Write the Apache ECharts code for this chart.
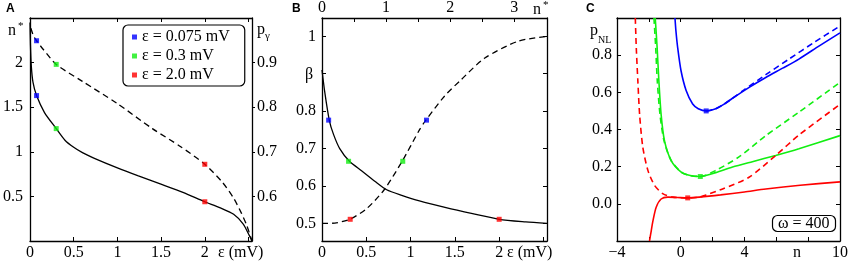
<!DOCTYPE html>
<html>
<head>
<meta charset="utf-8">
<script src="https://cdn.jsdelivr.net/npm/echarts@6/dist/echarts.min.js"></script>
<style>
  html, body { margin: 0; padding: 0; background: #fff; }
  #main { width: 851px; height: 263px; }
</style>
</head>
<body>
<div id="main"></div>
<script>
// ---- panel A : n* (solid, left axis) and p_gamma (dashed, right axis) vs epsilon
const epsA = [0.0, 0.005, 0.015, 0.034, 0.075, 0.166, 0.3, 0.4, 0.5, 0.6, 0.73, 1.0, 1.24, 1.49, 1.75, 2.0, 2.17, 2.33, 2.44, 2.51, 2.54];
const nStarA = [2.45, 2.2, 1.96, 1.78, 1.63, 1.44, 1.26, 1.13, 1.05, 0.99, 0.93, 0.82, 0.73, 0.64, 0.545, 0.44, 0.375, 0.30, 0.19, 0.06, 0.0];
const epsPg = [0.01, 0.04, 0.075, 0.15, 0.3, 0.6, 1.0, 1.4, 1.72, 2.0, 2.2, 2.33, 2.42, 2.48, 2.54];
const pGammaA = [0.977, 0.96, 0.949, 0.93, 0.896, 0.858, 0.808, 0.752, 0.712, 0.672, 0.632, 0.596, 0.562, 0.535, 0.5];

// the three marked cases
const caseNames = ['ε = 0.075 mV', 'ε = 0.3 mV', 'ε = 2.0 mV'];
const caseColors = ['#0000ff', '#11ee11', '#ff0000'];
const caseEps = [0.075, 0.3, 2.0];
const caseNStar = [1.63, 1.26, 0.44];
const casePGamma = [0.949, 0.896, 0.672];
const caseBeta = [0.776, 0.666, 0.511];

// ---- panel B : beta vs epsilon (solid, bottom axis) and vs n* (dashed, top axis)
const epsB = [0, 0.03, 0.083, 0.13, 0.2, 0.31, 0.45, 0.6, 0.73, 0.9, 1.1, 1.4, 1.7, 2.0, 2.3, 2.54];
const betaB = [0.91, 0.853, 0.775, 0.738, 0.7, 0.666, 0.64, 0.612, 0.59, 0.575, 0.56, 0.542, 0.526, 0.511, 0.504, 0.5];
const nStarB = [0, 0.2, 0.435, 0.7, 0.97, 1.25, 1.52, 1.62, 1.91, 2.17, 2.54, 3.06, 3.51];
const betaDashB = [0.5, 0.501, 0.511, 0.54, 0.59, 0.666, 0.75, 0.776, 0.84, 0.884, 0.942, 0.987, 1.0];

// ---- panel C : p_NL vs n
const nBlueS = [-0.36, -0.3, -0.19, 0.02, 0.34, 0.75, 1.1, 1.6, 2.2, 2.7, 3.25, 4.3, 5.34, 6.4, 7.42, 8.7, 10];
const pBlueS = [1.0, 0.93, 0.84, 0.716, 0.61, 0.537, 0.512, 0.5, 0.512, 0.535, 0.568, 0.627, 0.68, 0.73, 0.779, 0.85, 0.92];
const nBlueD = [1.6, 2.2, 2.7, 3.25, 4.0, 5.34, 6.8, 8.4, 10];
const pBlueD = [0.5, 0.512, 0.535, 0.568, 0.615, 0.695, 0.779, 0.87, 0.957];
const nGreenS = [-1.6, -1.48, -1.37, -1.23, -1.02, -0.6, 0.03, 0.6, 1.23, 2.2, 3.25, 4.5, 5.96, 7.42, 10];
const pGreenS = [1.0, 0.84, 0.66, 0.48, 0.34, 0.233, 0.171, 0.152, 0.147, 0.168, 0.198, 0.227, 0.26, 0.296, 0.367];
const nGreenD = [-1.68, -1.57, -1.47, -1.3, -1.05, -0.6, 0.03, 0.6, 1.23, 2.21, 3.7, 5.34, 7.42, 10];
const pGreenD = [1.0, 0.84, 0.66, 0.48, 0.34, 0.233, 0.171, 0.152, 0.147, 0.18, 0.255, 0.367, 0.493, 0.654];
const nRedS = [-1.96, -1.85, -1.75, -1.54, -1.23, -0.81, -0.2, 0.44, 1.17, 2.5, 4.0, 5.34, 7.5, 10];
const pRedS = [-0.2, -0.145, -0.094, -0.018, 0.026, 0.036, 0.034, 0.032, 0.036, 0.048, 0.064, 0.08, 0.1, 0.118];
const nRedD = [-2.85, -2.79, -2.69, -2.58, -2.38, -2.06, -1.64, -1.13, -0.5, 0.44, 1.17, 1.59, 2.63, 4.29, 5.96, 7.42, 10];
const pRedD = [1.0, 0.84, 0.66, 0.48, 0.305, 0.18, 0.099, 0.055, 0.036, 0.032, 0.036, 0.048, 0.08, 0.143, 0.26, 0.37, 0.535];
const minN = [1.6, 1.23, 0.44];
const minP = [0.5, 0.147, 0.032];

// ---- ticks and labels
const aXTicks = [0.5, 1, 1.5, 2, 2.5];
const aXLabels = [0, 0.5, 1, 1.5, 2];
const aYTicks = [0.5, 1, 1.5, 2];
const aYLabels = [0.5, 1, 1.5, 2];
const pgTicks = [0.6, 0.7, 0.8, 0.9];
const bXTicks = [0.5, 1, 1.5, 2, 2.5];
const bXLabels = [0, 0.5, 1, 1.5, 2];
const bTopTicks = [0.5, 1, 1.5, 2, 2.5, 3];
const bTopLabels = [0, 1, 2, 3];
const bYTicks = [0.5, 0.6, 0.7, 0.8, 0.9, 1];
const bYLabels = [0.5, 0.6, 0.7, 0.8, 1];
const cXTicks = [-2, 0, 2, 4, 6, 8];
const cXLabels = [-4, 0, 4, 10];
const cYTicks = [0, 0.2, 0.4, 0.6, 0.8];
const cYLabels = [0, 0.2, 0.4, 0.6, 0.8];

const SERIF = 'Liberation Serif';
const zip = (xs, ys) => xs.map((x, i) => [x, ys[i]]);

function axis(grid, pos, min, max, ticks, labels, fmt, opts) {
    opts = opts || {};
    return {
        type: 'value', gridIndex: grid, position: pos, min: min, max: max,
        splitLine: { show: false },
        axisLine: { show: true, onZero: false, lineStyle: { color: '#000', width: 1.3 } },
        axisTick: { show: true, inside: opts.outside ? false : true, length: opts.outside ? 3 : 4,
            customValues: ticks, lineStyle: { color: '#000', width: 1 } },
        axisLabel: labels ? { show: true, customValues: labels, formatter: fmt || (v => String(v)),
            margin: opts.margin != null ? opts.margin : 5, fontFamily: SERIF, fontSize: 16, color: '#000' }
            : { show: false }
    };
}

const xAxis = [
    axis(0, 'bottom', 0, 2.54, aXTicks, aXLabels, null, { margin: 4 }),
    axis(0, 'top', 0, 2.54, aXTicks, null),
    axis(1, 'bottom', 0, 2.54, bXTicks, bXLabels, null, { margin: 4 }),
    axis(1, 'top', 0, 3.51, bTopTicks, bTopLabels, null, { margin: 2 }),
    axis(2, 'bottom', -4, 10, cXTicks, cXLabels, v => v < 0 ? '\u2212' + Math.abs(v) : String(v), { margin: 4 }),
    axis(2, 'top', -4, 10, cXTicks, null)
];
const yAxis = [
    axis(0, 'left', 0, 2.5, aYTicks, aYLabels, null, { margin: 7 }),
    axis(0, 'right', 0.5, 1.0, pgTicks, pgTicks, null, { outside: true, margin: 5 }),
    axis(1, 'left', 0.453, 1.049, bYTicks, bYLabels, null, { margin: 6 }),
    axis(1, 'right', 0.453, 1.049, bYTicks, null),
    axis(2, 'left', -0.2, 1.0, cYTicks, cYLabels, v => v.toFixed(1), { margin: 5 }),
    axis(2, 'right', -0.2, 1.0, cYTicks, null)
];

function line(xi, yi, data, color, dashed, width) {
    return {
        type: 'line', xAxisIndex: xi, yAxisIndex: yi, data: data,
        showSymbol: false, smooth: 0.25, silent: true,
        lineStyle: { color: color, width: width || 1.3, type: dashed ? [6, 4] : 'solid' },
        z: 2
    };
}
function marks(xi, yi, name, pts, color) {
    return {
        type: 'scatter', name: name, xAxisIndex: xi, yAxisIndex: yi, data: pts,
        symbol: 'rect', symbolSize: 5, itemStyle: { color: color }, silent: true, z: 5
    };
}

const series = [
    line(0, 0, zip(epsA, nStarA), '#000', false),
    line(0, 1, zip(epsPg, pGammaA), '#000', true),
    line(2, 2, zip(epsB, betaB), '#000', false),
    line(3, 2, zip(nStarB, betaDashB), '#000', true),
    line(4, 4, zip(nBlueS, pBlueS), caseColors[0], false, 1.6),
    line(4, 4, zip(nBlueD, pBlueD), caseColors[0], true, 1.6),
    line(4, 4, zip(nGreenS, pGreenS), caseColors[1], false, 1.6),
    line(4, 4, zip(nGreenD, pGreenD), caseColors[1], true, 1.6),
    line(4, 4, zip(nRedS, pRedS), caseColors[2], false, 1.6),
    line(4, 4, zip(nRedD, pRedD), caseColors[2], true, 1.6)
];
caseNames.forEach((name, i) => {
    series.push(marks(0, 0, name, [[caseEps[i], caseNStar[i]]], caseColors[i]));
    series.push(marks(0, 1, name, [[caseEps[i], casePGamma[i]]], caseColors[i]));
    series.push(marks(2, 2, name, [[caseEps[i], caseBeta[i]]], caseColors[i]));
    series.push(marks(3, 2, name, [[caseNStar[i], caseBeta[i]]], caseColors[i]));
    series.push(marks(4, 4, name, [[minN[i], minP[i]]], caseColors[i]));
});

function txt(x, y, text, size) {
    return {
        type: 'text', x: x, y: y, silent: true,
        style: { text: text, font: size + 'px "' + SERIF + '"', fill: '#000', align: 'left', verticalAlign: 'middle' }
    };
}
const letterFont = { fontFamily: 'Liberation Sans', fontSize: 12, fontWeight: 'bold', color: '#000' };

var myChart = echarts.init(document.getElementById('main'), null, { renderer: 'canvas' });
var option = {
    animation: false,
    backgroundColor: '#fff',
    grid: [
        { left: 28, top: 18, width: 224, height: 223 },
        { left: 322, top: 18, width: 225, height: 223 },
        { left: 617, top: 18, width: 224, height: 223 }
    ],
    xAxis: xAxis,
    yAxis: yAxis,
    title: [
        { text: 'A', left: 6, top: 3, padding: 0, textStyle: letterFont },
        { text: 'B', left: 292, top: 3, padding: 0, textStyle: letterFont },
        { text: 'C', left: 586, top: 3, padding: 0, textStyle: letterFont },
        { text: 'ω = 400', left: 772, top: 215, padding: [1, 6, 0, 6],
          borderColor: '#000', borderWidth: 1.2, borderRadius: 5,
          textStyle: { fontFamily: SERIF, fontSize: 16, fontWeight: 'normal', color: '#000', lineHeight: 16 } }
    ],
    legend: {
        data: caseNames, left: 123, top: 25, orient: 'vertical', selectedMode: false,
        icon: 'rect', itemWidth: 5, itemHeight: 5, itemGap: 3,
        padding: [4, 15, 3, 9], borderColor: '#000', borderWidth: 1.2, borderRadius: 5,
        textStyle: { fontFamily: SERIF, fontSize: 16, color: '#000', lineHeight: 16 }
    },
    graphic: [
        txt(8, 31, 'n', 16), txt(18, 26, '*', 11),
        txt(257, 30, 'p', 16), txt(265, 36, 'γ', 11),
        txt(218, 253, 'ε (mV)', 16),
        txt(507, 253, 'ε (mV)', 16),
        txt(305, 75, 'β', 16),
        txt(533, 10, 'n', 16), txt(543, 5, '*', 11),
        txt(590, 31, 'p', 16), txt(598, 40, 'NL', 10),
        txt(793, 253, 'n', 16)
    ],
    series: series
};
myChart.setOption(option);
</script>
</body>
</html>
